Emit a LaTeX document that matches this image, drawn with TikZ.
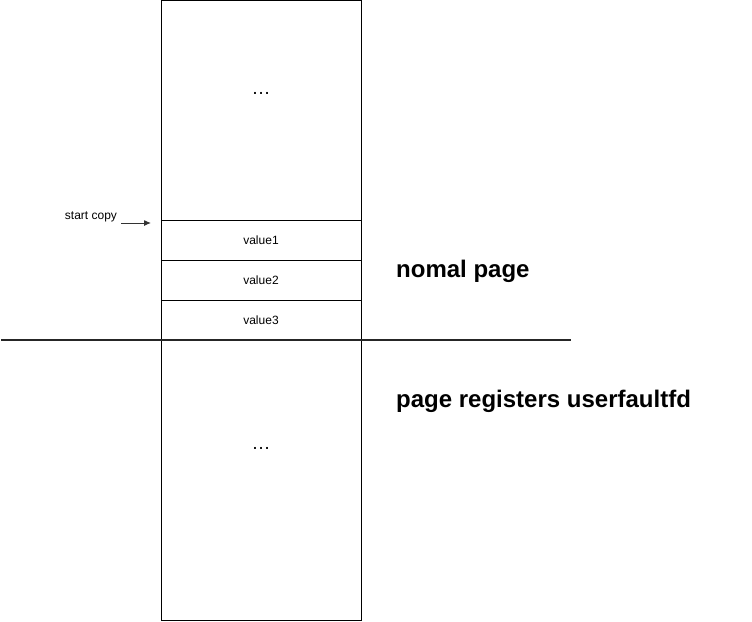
\documentclass[tikz,border=0pt]{standalone}
\usepackage{fontspec}
\setmainfont{Liberation Sans}
\usetikzlibrary{arrows.meta,positioning,calc}
\begin{document}
\begin{tikzpicture}[
  x=1pt, y=-1pt,
  node distance=0pt,
  cell/.style={draw, line width=0.8pt, minimum width=200pt, inner sep=0pt, outer sep=0pt, text depth=0pt, font=\fontsize{12}{14}\selectfont},
  bigtxt/.style={anchor=west, inner sep=0pt, font=\fontsize{24}{28}\selectfont\bfseries},
  >={Latex[length=7pt,width=6pt]}
]
\useasboundingbox (0,0) rectangle (752,621);
\node[cell, minimum height=220pt, anchor=north west] (top) at (161,0.5) {};
\node[cell, minimum height=40pt, below=of top] (v1) {value1};
\node[cell, minimum height=40pt, below=of v1] (v2) {value2};
\node[cell, minimum height=40pt, below=of v2] (v3) {value3};
\node[cell, minimum height=280pt, below=of v3] (bot) {};
\node[font=\fontsize{19}{20}\selectfont, inner sep=0pt] (topdots) at ($(top.north)+(0,93)$) {…};
\node[font=\fontsize{19}{20}\selectfont, inner sep=0pt] (botdots) at ($(bot.north)+(0,108)$) {…};
% split between the two kinds of page
\coordinate (splitl) at (1,340);
\coordinate (splitr) at (571,340);
\draw[line width=1.8pt, black!85] (splitl) -- (splitr);
\node[bigtxt] (normal) at (396,271.5) {nomal page};
\node[bigtxt] (uffd) at (396,401.5) {page registers userfaultfd};
% start copy marker
\node[font=\fontsize{12}{14}\selectfont, inner sep=0pt] (start) at (91,217) {start copy};
\coordinate (arrs) at (121,223);
\coordinate (arre) at (151,223);
\draw[->, line width=1pt, black!80] (arrs) -- (arre);
\end{tikzpicture}
\end{document}
